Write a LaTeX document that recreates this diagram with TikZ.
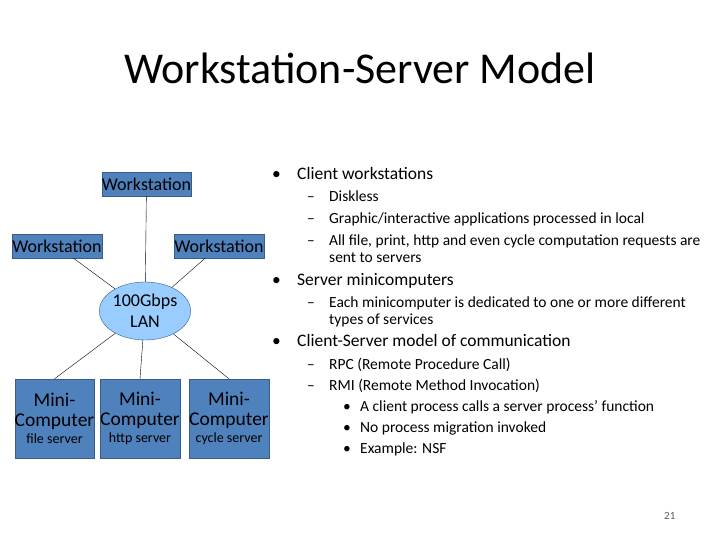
\documentclass[tikz,border=0pt]{standalone}
\usepackage{fontspec}
\setmainfont{Carlito}
\usetikzlibrary{shapes.geometric}
\definecolor{boxblue}{RGB}{79,129,189}
\definecolor{lanblue}{RGB}{153,204,255}
\definecolor{boxedge}{RGB}{56,93,138}
\newcommand{\dashitem}{\makebox[22pt][l]{–}}
\newcommand{\dotitem}{\makebox[17pt][l]{•}}
\tikzset{
    wsbox/.style={draw=boxedge, fill=boxblue, inner sep=0pt, minimum height=24pt, font=\fontsize{18}{18}\selectfont},
    minibox/.style={draw=boxedge, fill=boxblue, minimum width=77pt, minimum height=79pt, align=center, inner sep=0pt, font=\fontsize{19.5}{20}\selectfont},
    txt/.style={anchor=base west, inner sep=0pt},
    lvla/.style={txt, font=\fontsize{17.5}{18}\selectfont},
    lvlb/.style={txt, font=\fontsize{15.5}{16}\selectfont},
}
\begin{document}
\begin{tikzpicture}[x=1pt, y=-1pt]
    \useasboundingbox (0,0) rectangle (720,540);

    \node (title) [font=\fontsize{44}{44}\selectfont] at (360,68) {Workstation-Server Model};

    \node (wst) [wsbox, minimum width=89pt] at (146.5,184) {Workstation};
    \node (wsl) [wsbox, minimum width=90pt] at (57,246) {Workstation};
    \node (wsr) [wsbox, minimum width=90pt] at (219,246) {Workstation};
    \node (lan) [ellipse, draw=boxedge, fill=lanblue, minimum width=90pt, minimum height=58pt, inner sep=0pt, align=center, font=\fontsize{18}{21}\selectfont] at (145,311) {100Gbps\\LAN};
    \node (m1) [minibox] at (54.5,418.5) {Mini-\\Computer\\[-3pt]{\fontsize{14}{14}\selectfont file server}};
    \node (m2) [minibox] at (140,418.5) {Mini-\\Computer\\[-3pt]{\fontsize{14}{14}\selectfont http server}};
    \node (m3) [minibox] at (229,418.5) {Mini-\\Computer\\[-3pt]{\fontsize{14}{14}\selectfont cycle server}};

    \draw (wst) -- (lan);
    \draw (wsl) -- (lan);
    \draw (wsr) -- (lan);
    \draw (lan) -- (m1.north);
    \draw (lan) -- (m2.north);
    \draw (lan) -- (m3.north);

    % bullet text
    \node (b1) [lvla] at (272,180) {•};
    \node (t1) [lvla] at (297,180) {Client workstations};
    \node (t1a) [lvlb] at (307,202) {\dashitem Diskless};
    \node (t1b) [lvlb] at (307,223) {\dashitem Graphic/interactive applications processed in local};
    \node (t1c) [lvlb] at (307,245) {\dashitem All file, print, http and even cycle computation requests are};
    \node (t1d) [lvlb] at (329,262) {sent to servers};
    \node (b2) [lvla] at (272,285) {•};
    \node (t2) [lvla] at (297,285) {Server minicomputers};
    \node (t2a) [lvlb] at (307,307) {\dashitem Each minicomputer is dedicated to one or more different};
    \node (t2b) [lvlb] at (329,324) {types of services};
    \node (b3) [lvla] at (272,346) {•};
    \node (t3) [lvla] at (297,346) {Client-Server model of communication};
    \node (t3a) [lvlb] at (307,369) {\dashitem RPC (Remote Procedure Call)};
    \node (t3b) [lvlb] at (307,390) {\dashitem RMI (Remote Method Invocation)};
    \node (t3c) [lvlb] at (343,411) {\dotitem A client process calls a server process’ function};
    \node (t3d) [lvlb] at (343,432) {\dotitem No process migration invoked};
    \node (t3e) [lvlb] at (343,453) {\dotitem Example: NSF};

    \node (page) [txt, font=\fontsize{11}{11}\selectfont, text=gray!70!black] at (664,519) {21};
\end{tikzpicture}
\end{document}
